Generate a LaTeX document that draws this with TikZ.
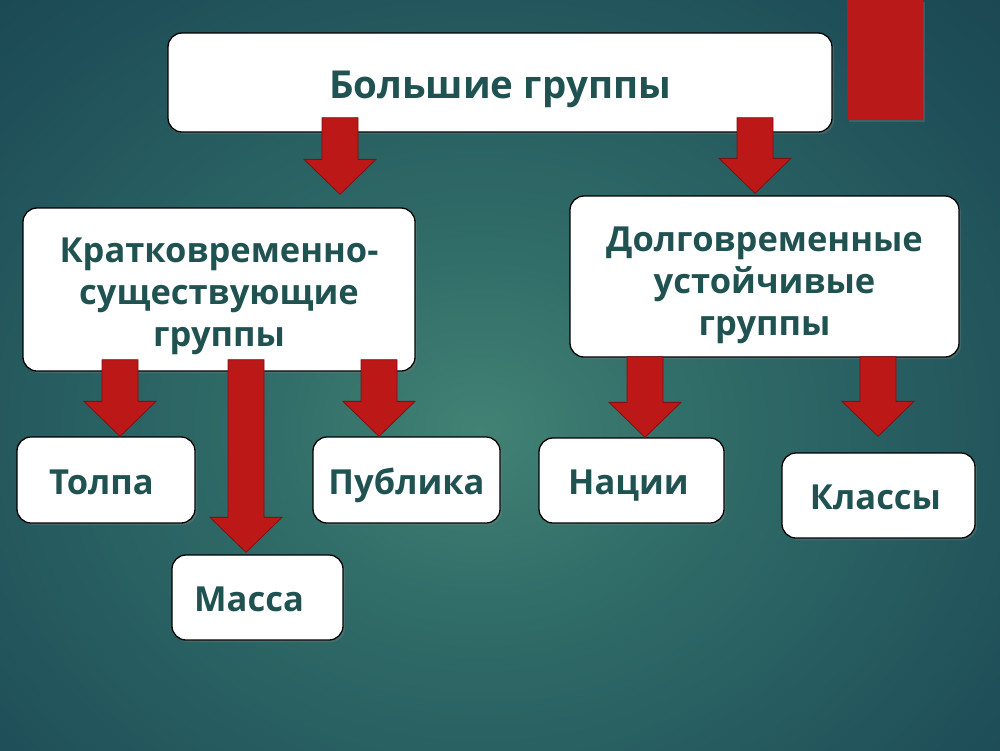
\documentclass[tikz,border=0pt]{standalone}
\usepackage{fontspec}
\setmainfont{Open Sans}
\usepackage{tikz}
\usetikzlibrary{calc,shadows}
\definecolor{bgin}{RGB}{66,130,116}
\definecolor{bgmid}{RGB}{48,108,104}
\definecolor{bgdark}{RGB}{30,78,88}
\definecolor{bgout}{RGB}{18,50,64}
\definecolor{textteal}{RGB}{32,82,82}
\definecolor{arrowred}{RGB}{188,24,24}
\definecolor{arrowedge}{RGB}{125,18,18}
\definecolor{accentred}{RGB}{186,25,26}
\pgfdeclareradialshading{backdrop}{\pgfpoint{0bp}{0bp}}{color(0bp)=(bgin); color(10bp)=(bgmid); color(28bp)=(bgdark); color(48bp)=(bgout); color(80bp)=(bgout)}
\tikzset{
    groupbox/.style={draw=black, line width=1.3pt, fill=white, rounded corners=14pt,
                     text=textteal, align=center, inner sep=0pt,
                     font=\bfseries\fontsize{34.5}{42}\selectfont,
                     drop shadow={shadow xshift=2pt, shadow yshift=-2pt, opacity=0.35}},
    leafbox/.style={groupbox, text height=28pt, text depth=0pt},
    titlebox/.style={groupbox, text height=31pt, text depth=0pt,
                     font=\bfseries\fontsize{38.5}{44}\selectfont},
    blockarrow/.style={draw=arrowedge, fill=arrowred, line width=0.8pt,
        to path={let \p1=(\tikztostart), \p2=(\tikztotarget) in
            (\x1-18pt,\y1) -- (\x1+18pt,\y1) -- (\x1+18pt,\y2+35pt) -- (\x1+36pt,\y2+35pt)
            -- (\x1,\y2) -- (\x1-36pt,\y2+35pt) -- (\x1-18pt,\y2+35pt) -- cycle}},
}
\begin{document}
\begin{tikzpicture}[x=1pt, y=-1pt]
    \useasboundingbox (0,0) rectangle (1000,750);
    \shade[shading=backdrop] (-80,-40) rectangle (1040,900);

    % Accent bar
    \fill[accentred, drop shadow={shadow xshift=2pt, shadow yshift=-2pt, opacity=0.3}] (847,0) rectangle (923,120);

    % Top level
    \node[titlebox, minimum width=664pt, minimum height=99pt] (top) at (500,82.5) {Большие группы};

    % Second level
    \node[groupbox, minimum width=392pt, minimum height=163pt] (short) at (219,289.5)
        {\rule{0pt}{39pt}Кратковременно-\\существующие\\группы};
    \node[groupbox, minimum width=389pt, minimum height=161pt] (long) at (764.5,276.5)
        {\rule{0pt}{43pt}Долговременные\\устойчивые\hspace*{10pt}\\группы};

    % Third level
    \node[leafbox, minimum width=178pt, minimum height=86pt] (tolpa) at (106,480) {Толпа\hspace*{9pt}};
    \node[leafbox, minimum width=187pt, minimum height=86pt] (publika) at (406.5,480) {Публика};
    \node[leafbox, minimum width=171pt, minimum height=85pt] (massa) at (257.5,597.5) {Масса\hspace*{17pt}};
    \node[leafbox, minimum width=185pt, minimum height=85pt] (nacii) at (631.5,480.5) {Нации\hspace*{6pt}};
    \node[leafbox, minimum width=193pt, minimum height=85pt] (klassy) at (878.5,495.5) {Классы\hspace*{6pt}};

    % Arrows
    \draw[blockarrow] ([xshift=-160pt,yshift=15pt]top.south) to ([yshift=13pt]short.north);
    \draw[blockarrow] ([xshift=255pt,yshift=15pt]top.south) to ([yshift=2pt]long.north);
    \draw[blockarrow] ([xshift=-99pt,yshift=12pt]short.south) to (tolpa.north);
    \draw[blockarrow] ([xshift=27pt,yshift=12pt]short.south) to ([yshift=2pt]massa.north);
    \draw[blockarrow] ([xshift=160pt,yshift=12pt]short.south) to (publika.north);
    \draw[blockarrow] ([xshift=-119.5pt,yshift=1pt]long.south) to (nacii.north);
    \draw[blockarrow] ([xshift=113.5pt,yshift=1pt]long.south) to ([yshift=16pt]klassy.north);
\end{tikzpicture}
\end{document}
